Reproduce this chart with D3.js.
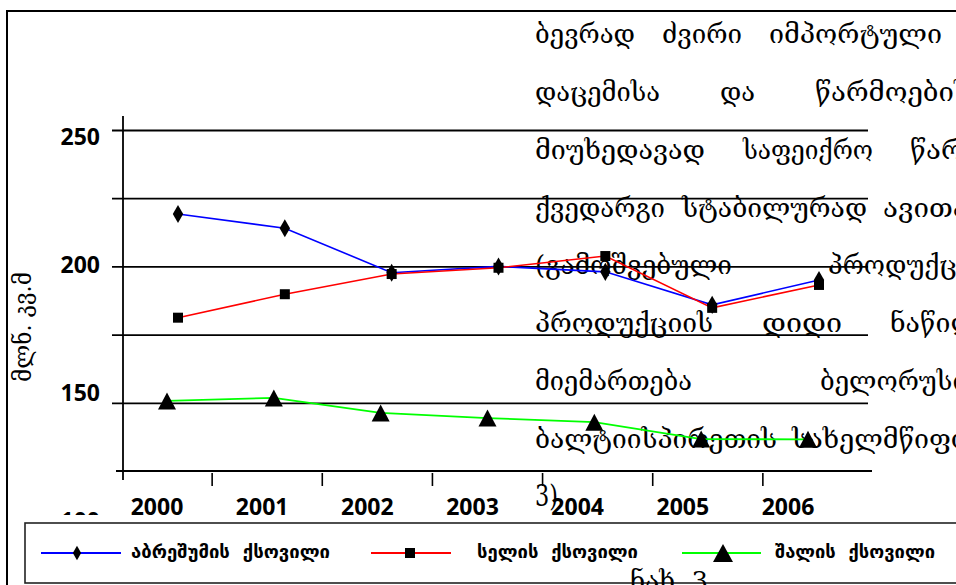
<!DOCTYPE html>
<html><head><meta charset="utf-8">
<script src="https://cdn.jsdelivr.net/npm/d3@7"></script>
<style>html,body{margin:0;padding:0;background:#fff;overflow:hidden} svg{display:block}</style>
</head><body>
<svg id="c" width="956" height="585"></svg>
<script>
// ---- data ----
const years = [2000, 2001, 2002, 2003, 2004, 2005, 2006];
const silk  = [219.2, 214.0, 197.7, 200.0, 198.0, 185.9, 195.0];
const linen = [181.2, 189.8, 197.2, 199.5, 203.8, 184.8, 193.2];
const wool  = [150.7, 151.8, 146.3, 144.4, 142.9, 136.7, 136.6];
const gridValues = [150, 175, 200, 225, 250];
const yTickLabels = [100, 150, 200, 250];
const seriesNames = ["აბრეშუმის  ქსოვილი", "სელის  ქსოვილი", "შალის  ქსოვილი"];
const yTitle = "მლნ. კვ.მ";
const paragraph = [
  ["ბევრად", "ძვირი", "იმპორტული"],
  ["დაცემისა", "და", "წარმოების"],
  ["მიუხედავად", "საფეიქრო", "წარმოების"],
  ["ქვედარგი", "სტაბილურად", "ავითარებს"],
  ["(გამოშვებული", "პროდუქციის"],
  ["პროდუქციის", "დიდი", "ნაწილი"],
  ["მიემართება", "ბელორუსიაში"],
  ["ბალტიისპირეთის", "სახელმწიფოებში"],
  ["3)"]
];
const caption = "ნახ. 3";

// ---- layout (not data) ----
const paraX = [[535,662,769],[535,720,815],[535,743,910],[535,682,883],[535,828],[535,762,890],[535,820],[535,792],[535]];
const paraW = [[100,80,173],[125,35,null],[170,130,null],[130,185,null],[197,null],[178,80,null],[157,null],[242,null],[23]];
const legendX = [[41,121,77,131,199],[371,451,410,477,161],[682,761,723,775,160]];

const svg = d3.select("#c");
const y = d3.scaleLinear().domain([125, 250]).range([471, 130]);
const yLab = d3.scaleLinear().domain([100, 250]).range([521, 137]);
const x = d3.scalePoint().domain(years).range([178, 819]);
const xLab = d3.scalePoint().domain(years).range([157, 788]);
const xBand = d3.scaleBand().domain(years).range([102, 873]);
const greenShift = -11;
const numFont = "'Open Sans', Lato, sans-serif";

// outer frame
svg.append("path").attr("d", "M7,585V11H956").attr("fill", "none").attr("stroke", "#000").attr("stroke-width", 2);

// gridlines
const grid = svg.append("g").attr("transform", "translate(112,0)")
  .call(d3.axisRight(y).tickValues(gridValues).tickSize(756).tickFormat(""));
grid.select(".domain").remove();
grid.selectAll(".tick line").attr("stroke", "#000").attr("stroke-width", 1.8);

// x axis line
svg.append("line").attr("x1", 116).attr("x2", 872).attr("y1", y(125)).attr("y2", y(125))
  .attr("stroke", "#000").attr("stroke-width", 2);
// y axis line
svg.append("line").attr("x1", 123).attr("x2", 123).attr("y1", 116).attr("y2", 480)
  .attr("stroke", "#000").attr("stroke-width", 1.8);

// x ticks
svg.append("g").selectAll("line").data(years.slice(1)).join("line")
  .attr("x1", d => xBand(d)).attr("x2", d => xBand(d))
  .attr("y1", 473).attr("y2", 486).attr("stroke", "#000").attr("stroke-width", 1.6);

// x labels
svg.append("g").selectAll("text").data(years).join("text")
  .attr("x", d => xLab(d)).attr("y", 515).attr("text-anchor", "middle")
  .attr("font-family", numFont).attr("font-weight", 700).attr("font-size", 23)
  .text(d => d);

// y labels (clipped like the reference)
svg.append("clipPath").attr("id", "ylc").append("rect").attr("x", 0).attr("y", 0).attr("width", 120).attr("height", 515);
svg.append("g").attr("clip-path", "url(#ylc)").selectAll("text").data(yTickLabels).join("text")
  .attr("x", 100).attr("y", d => yLab(d)).attr("dy", "0.36em").attr("text-anchor", "end")
  .attr("font-family", numFont).attr("font-weight", 700).attr("font-size", 23)
  .text(d => d);

// y title
svg.append("text").attr("transform", "translate(31,327) rotate(-90)")
  .attr("text-anchor", "middle").attr("font-family", "'DejaVu Serif','DejaVu Sans',serif").attr("font-size", 25)
  .attr("textLength", 110).attr("lengthAdjust", "spacingAndGlyphs").text(yTitle);

// paragraph text
const para = svg.append("g").attr("font-family", "'DejaVu Serif','DejaVu Sans',serif").attr("font-size", 26).attr("fill", "#000");
paragraph.forEach((words, li) => {
  words.forEach((w, wi) => {
    const t = para.append("text").attr("x", paraX[li][wi]).attr("y", 43 + 57.86 * li).text(w);
    const width = paraW[li][wi] != null ? paraW[li][wi] : w.length * 17.3;
    t.attr("textLength", width).attr("lengthAdjust", "spacingAndGlyphs");
    if (w === "3)") t.attr("font-size", 29);
  });
});

// series
const line = d3.line().x((d, i) => x(years[i])).y(d => y(d));
const lineG = d3.line().x((d, i) => x(years[i]) + greenShift).y(d => y(d));
svg.append("path").datum(wool).attr("d", lineG).attr("fill", "none").attr("stroke", "#00ff00").attr("stroke-width", 1.8);
svg.append("path").datum(silk).attr("d", line).attr("fill", "none").attr("stroke", "#0000ff").attr("stroke-width", 1.6);
svg.append("path").datum(linen).attr("d", line).attr("fill", "none").attr("stroke", "#ff0000").attr("stroke-width", 1.6);

const diamond = d3.symbol().type(d3.symbolDiamond).size(94);
const square = d3.symbol().type(d3.symbolSquare).size(100);
const tri = (w, h) => `M0,${-h/2}L${w/2},${h/2}L${-w/2},${h/2}Z`;

svg.append("g").selectAll("path").data(silk).join("path")
  .attr("transform", (d, i) => `translate(${x(years[i])},${y(d)})`).attr("d", diamond).attr("fill", "#000");
svg.append("g").selectAll("path").data(linen).join("path")
  .attr("transform", (d, i) => `translate(${x(years[i])},${y(d)})`).attr("d", square).attr("fill", "#000");
svg.append("g").selectAll("path").data(wool).join("path")
  .attr("transform", (d, i) => `translate(${x(years[i]) + greenShift},${y(d)})`).attr("d", tri(18, 17)).attr("fill", "#000");

// legend
svg.append("rect").attr("x", 25).attr("y", 523).attr("width", 960).attr("height", 60)
  .attr("fill", "#fff").attr("stroke", "#222").attr("stroke-width", 1.6);
const colors = ["#0000ff", "#ff0000", "#00ff00"];
const legMarks = [d3.symbol().type(d3.symbolDiamond).size(60)(), square(), tri(20, 18)];
seriesNames.forEach((name, i) => {
  const L = legendX[i];
  svg.append("line").attr("x1", L[0]).attr("x2", L[1]).attr("y1", 553).attr("y2", 553)
    .attr("stroke", colors[i]).attr("stroke-width", 2);
  svg.append("path").attr("transform", `translate(${L[2]},553)`).attr("d", legMarks[i]).attr("fill", "#000");
  svg.append("text").attr("x", L[3]).attr("y", 558).attr("font-family", "'DejaVu Sans',sans-serif")
    .attr("font-weight", 700).attr("font-size", 18).attr("textLength", L[4]).attr("lengthAdjust", "spacingAndGlyphs")
    .attr("xml:space", "preserve").text(name);
});

// caption
svg.append("text").attr("x", 630).attr("y", 590).attr("font-family", "'DejaVu Serif','DejaVu Sans',serif")
  .attr("font-size", 26).attr("textLength", 78).attr("lengthAdjust", "spacingAndGlyphs").text(caption);
</script>
</body></html>
